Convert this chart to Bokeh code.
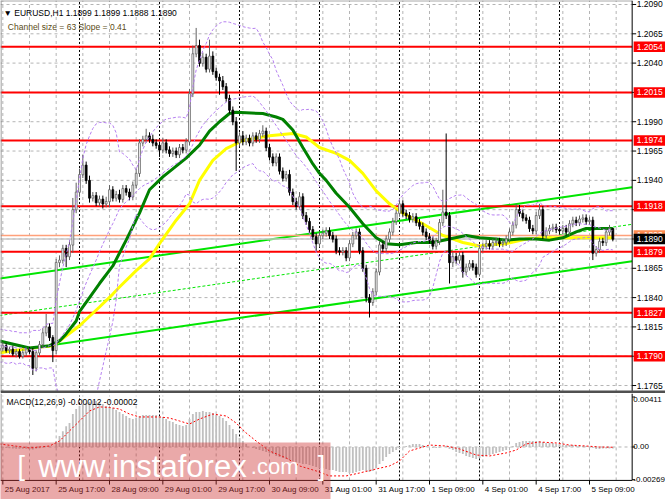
import numpy as np
from bokeh.plotting import figure
from bokeh.layouts import column
from bokeh.models import Range1d
from bokeh.core.properties import value
from bokeh.embed import file_html
from bokeh.resources import INLINE

# ---------------- data (EURUSD H1, 25 Aug 2017 00:00 .. 5 Sep 2017 16:00) ----------------
closes = [
    1.1797, 1.1799, 1.1795, 1.1796, 1.1792, 1.1794, 1.1790, 1.1793, 1.1796, 1.1794,
    1.1780, 1.1793, 1.1800, 1.1810, 1.1815, 1.1806, 1.1795, 1.1870, 1.1872, 1.1882,
    1.1875, 1.1885, 1.1915, 1.1930, 1.1945, 1.1953, 1.1940, 1.1925, 1.1927, 1.1921,
    1.1924, 1.1920, 1.1922, 1.1932, 1.1925, 1.1928, 1.1924, 1.1933, 1.1930, 1.1926,
    1.1936, 1.1946, 1.1972, 1.1975, 1.1978, 1.1975, 1.1972, 1.1970, 1.1966, 1.1972,
    1.1966, 1.1963, 1.1965, 1.1962, 1.1968, 1.1966, 1.1973, 1.2014, 1.2048, 1.2055,
    1.2040, 1.2045, 1.2035, 1.2046, 1.2033, 1.2028, 1.2025, 1.2020, 1.2010, 1.2000,
    1.1990, 1.1972, 1.1978, 1.1973, 1.1976, 1.1972, 1.1978, 1.1975, 1.1980, 1.1982,
    1.1968, 1.1960, 1.1955, 1.1960, 1.1948, 1.1942, 1.1945, 1.1930, 1.1922, 1.1918,
    1.1926, 1.1910, 1.1905, 1.1898, 1.1892, 1.1886, 1.1893, 1.1895, 1.1897, 1.1893,
    1.1890, 1.1880, 1.1879, 1.1880, 1.1874, 1.1886, 1.1893, 1.1896, 1.1880, 1.1865,
    1.1840, 1.1836, 1.1845, 1.1862, 1.1885, 1.1882, 1.1890, 1.1896, 1.1905, 1.1912,
    1.1920, 1.1912, 1.1910, 1.1907, 1.1909, 1.1904, 1.1901, 1.1896, 1.1892, 1.1889,
    1.1884, 1.1888, 1.1904, 1.1913, 1.1910, 1.1870, 1.1875, 1.1872, 1.1876, 1.1862,
    1.1866, 1.1869, 1.1866, 1.1860, 1.1882, 1.1884, 1.1886, 1.1884, 1.1887, 1.1888,
    1.1886, 1.1887, 1.1890, 1.1896, 1.1902, 1.1915, 1.1912, 1.1908, 1.1906, 1.1899,
    1.1897, 1.1910, 1.1915, 1.1893, 1.1897, 1.1899, 1.1900, 1.1898, 1.1897, 1.1899,
    1.1896, 1.1903, 1.1906, 1.1904, 1.1907, 1.1908, 1.1905, 1.1906, 1.1878, 1.1881,
    1.1888, 1.1887, 1.1896, 1.1899, 1.1890,
]
first_open = 1.1795
# wick lengths above / below the body, in pips
up_wick = [
    2, 3, 2, 2, 3, 2, 2, 3, 2, 2,   3, 2, 3, 4, 11, 3, 2, 3, 4, 3,
    3, 4, 10, 8, 5, 9, 3, 4, 3, 3,  3, 3, 4, 4, 3, 3, 4, 3, 3, 3,
    3, 4, 3, 3, 6, 3, 4, 3, 3, 4,   3, 3, 3, 3, 3, 3, 3, 4, 7, 15,
    5, 4, 3, 14, 4, 3, 3, 4, 3, 3,  3, 4, 3, 4, 3, 3, 3, 3, 3, 5,
    3, 3, 3, 3, 3, 3, 3, 4, 3, 3,   4, 3, 3, 3, 3, 3, 3, 3, 3, 3,
    3, 3, 3, 3, 3, 3, 3, 3, 3, 3,   3, 3, 3, 3, 3, 3, 3, 3, 3, 3,
    5, 3, 3, 3, 3, 3, 3, 3, 3, 3,   3, 3, 3, 19, 67, 3, 4, 3, 3, 3,
    3, 3, 3, 3, 3, 3, 3, 3, 3, 3,   3, 3, 3, 3, 3, 5, 4, 3, 3, 3,
    3, 3, 5, 3, 3, 3, 3, 3, 3, 3,   3, 3, 3, 3, 3, 3, 3, 3, 3, 3,
    3, 3, 3, 3, 0,
]
dn_wick = [
    2, 3, 2, 3, 2, 3, 2, 2, 3, 2,   6, 3, 3, 3, 3, 3, 10, 3, 4, 3,
    9, 3, 7, 3, 4, 3, 3, 4, 3, 3,   3, 4, 3, 5, 3, 3, 3, 3, 3, 3,
    3, 3, 3, 3, 3, 3, 3, 3, 6, 3,   3, 3, 3, 3, 3, 3, 3, 3, 3, 3,
    3, 3, 3, 3, 3, 3, 12, 3, 3, 3,  3, 24, 3, 3, 3, 3, 3, 3, 3, 3,
    3, 3, 3, 3, 3, 3, 3, 3, 3, 3,   3, 3, 3, 3, 3, 6, 3, 3, 3, 3,
    3, 3, 3, 3, 3, 3, 3, 3, 3, 3,   4, 13, 3, 3, 3, 3, 3, 3, 3, 3,
    3, 3, 3, 3, 3, 3, 3, 3, 3, 3,   3, 3, 3, 3, 3, 18, 4, 3, 3, 5,
    3, 3, 3, 3, 2, 3, 3, 3, 3, 3,   3, 3, 3, 3, 3, 3, 3, 3, 3, 3,
    3, 3, 3, 3, 3, 3, 3, 3, 3, 3,   3, 3, 3, 3, 3, 3, 3, 3, 6, 3,
    3, 3, 3, 3, 2,
]

green_ma_bar = [0, 9, 15, 18, 20, 23, 24, 27, 30, 34, 38, 42, 45, 49, 56, 60, 63, 66, 69, 71,
                79, 83, 85, 88, 91, 94, 96, 98, 101, 105, 109, 113, 116, 120, 125, 130, 135,
                140, 144, 149, 152, 156, 161, 165, 169, 173, 176, 180, 184]
green_ma = [1.1803, 1.1797, 1.1799, 1.1803, 1.1809, 1.1820, 1.1828, 1.1840, 1.1852, 1.1867,
            1.1889, 1.1912, 1.1932, 1.1943, 1.1959, 1.1970, 1.1982, 1.1990, 1.1997, 1.1998,
            1.1997, 1.1994, 1.1992, 1.1983, 1.1968, 1.1954, 1.1946, 1.1940, 1.1929, 1.1917,
            1.1903, 1.1891, 1.1886, 1.1885, 1.1887, 1.1887, 1.1890, 1.1893, 1.1891, 1.1890,
            1.1889, 1.1890, 1.1890, 1.1889, 1.1891, 1.1896, 1.1899, 1.1899, 1.1899]

yellow_ma_bar = [0, 10, 16, 18, 24, 30, 34, 36, 41, 45, 48, 53, 57, 60, 64, 68, 73, 81, 88, 92,
                 96, 101, 105, 109, 113, 117, 121, 127, 133, 139, 144, 147, 152, 158, 163, 171,
                 178, 184]
yellow_ma = [1.1793, 1.1797, 1.1799, 1.1803, 1.1816, 1.1832, 1.1843, 1.1849, 1.1863, 1.1873,
             1.1886, 1.1906, 1.1920, 1.1940, 1.1957, 1.1967, 1.1974, 1.1978, 1.1980, 1.1977,
             1.1968, 1.1963, 1.1957, 1.1946, 1.1931, 1.1920, 1.1912, 1.1903, 1.1893, 1.1887,
             1.1884, 1.1885, 1.1886, 1.1890, 1.1891, 1.1891, 1.1891, 1.1891]

# Bollinger Bands(20, 2): bands for the first bars (window reaches
# back before the visible data); later bars come from the closes above
bb_period = 20
bb_dev = 2.0
bb_early_upper = [1.1813, 1.1813, 1.1812, 1.1812, 1.1811, 1.1811, 1.1810, 1.1810, 1.1810,
                  1.1810, 1.1812, 1.1812, 1.1812, 1.1814, 1.1817, 1.1818, 1.1818]
bb_early_mid = [1.1799, 1.1799, 1.1798, 1.1798, 1.1798, 1.1797, 1.1797, 1.1797, 1.1796,
                1.1796, 1.1795, 1.1795, 1.1796, 1.1797, 1.1798, 1.1799, 1.1799]
bb_early_lower = [1.1785, 1.1785, 1.1784, 1.1784, 1.1785, 1.1783, 1.1784, 1.1784, 1.1782,
                  1.1782, 1.1778, 1.1778, 1.1780, 1.1780, 1.1779, 1.1780, 1.1780]

levels = [1.2054, 1.2015, 1.1974, 1.1918, 1.1879, 1.1827, 1.1790]
price_ticks = [1.2090, 1.2065, 1.2040, 1.2015, 1.1990, 1.1965, 1.1940, 1.1915,
               1.1890, 1.1865, 1.1840, 1.1815, 1.1790, 1.1765]
hidden_price_ticks = [1.2015, 1.1915, 1.1890, 1.1790]
bid_price = 1.1890
ask_price = 1.1893

# linear regression channel: upper / middle line at bar 0, half width, slope per bar
chan_upper_start = 1.18563
chan_mid_start = 1.18247
chan_half_width = 0.00316
chan_slope = 0.000041
chan_lower_first_bar = 17

# MACD(12,26,9), in units of 1e-5
macd_hist = [
    -4, -6, -8, -10, -12, -14, -14, -15, -15, -18,   -20, -15, -10, -4, 5, 6, 2, 49, 90, 130,
    170, 197, 271, 312, 337, 353, 362, 370, 378, 378,  370, 353, 337, 329, 320, 304, 288, 271, 255, 238,
    230, 238, 255, 263, 263, 263, 263, 263, 255, 247,  230, 214, 206, 189, 181, 173, 181, 230, 271, 288,
    288, 296, 288, 288, 279, 263, 255, 238, 214, 181,  148, 107, 74, 49, 25, 0, -8, -16, -25, -33,
    -41, -49, -58, -74, -82, -90, -99, -107, -115, -123,  -132, -140, -140, -148, -156, -164, -173, -173, -181, -189,
    -189, -197, -206, -206, -206, -214, -214, -206, -197, -189,  -197, -206, -197, -173, -140, -115, -82, -58, -41, -25,
    -8, 0, 8, 16, 25, 25, 25, 16, 8, 0,  -8, -8, -8, 0, 8, -16, -25, -41, -49, -58,
    -74, -82, -90, -99, -90, -82, -74, -66, -58, -49,  -41, -33, -25, -8, 8, 33, 41, 49, 49, 49,
    49, 49, 49, 41, 33, 33, 33, 25, 25, 16,  16, 16, 16, 8, 8, 8, 8, 0, -8, -16,
    -16, -12, -12, -12, -12,
]
signal_bar = [0, 9, 15, 18, 21, 24, 27, 30, 33, 36, 39, 42, 48, 51, 54, 57, 60, 64, 68, 71,
              74, 77, 81, 86, 90, 95, 99, 104, 108, 113, 117, 120, 123, 126, 129, 134, 138,
              143, 147, 152, 155, 158, 162, 167, 171, 176, 180, 184]
signal = [25, -8, 8, 49, 132, 214, 296, 330, 325, 312, 271, 247, 247, 238, 214, 189, 230, 271,
          255, 197, 115, 49, -33, -90, -156, -197, -238, -238, -214, -181, -156, -115, -33, -8,
          16, 8, -16, -66, -74, -49, -25, 25, 41, 33, 16, 8, 0, -2]
macd_ticks = [0.00411, 0.0, -0.00269]
macd_tick_labels = ["0.00411", "0.00", "-0.00269"]
macd_label = "MACD(12,26,9) -0.00012 -0.00002"

time_tick_bars = [1, 17, 33, 49, 65, 81, 97, 113, 129, 145, 161, 177]
time_tick_labels = ["25 Aug 2017", "25 Aug 17:00", "28 Aug 09:00", "29 Aug 01:00",
                    "29 Aug 17:00", "30 Aug 09:00", "31 Aug 01:00", "31 Aug 17:00",
                    "1 Sep 09:00", "4 Sep 01:00", "4 Sep 17:00", "5 Sep 09:00"]
day_separator_bars = [24, 48, 72, 96, 120, 144, 168]
grid_bars = [1, 9, 17, 25, 33, 41, 49, 57, 65, 73, 81, 89, 97, 105, 113, 121, 129, 137,
             145, 153, 161, 169, 177, 185]

title_text = "\u25bc EURUSD,H1  1.1899 1.1899 1.1888 1.1890"
channel_text = "Channel size = 63 Slope = 0.41"

# ---------------- derived series ----------------
n = len(closes)
bars = np.arange(n)
cl = np.array(closes)
op = np.array([first_open] + closes[:-1])
hi = np.maximum(op, cl) + np.array(up_wick) * 0.0001
lo = np.minimum(op, cl) - np.array(dn_wick) * 0.0001
bull = cl >= op

bb_up, bb_mid, bb_lo = [], [], []
for i in range(n):
    if i < len(bb_early_mid):
        bb_up.append(bb_early_upper[i]); bb_mid.append(bb_early_mid[i]); bb_lo.append(bb_early_lower[i])
    else:
        w = cl[max(0, i - bb_period + 1): i + 1]
        m, s = w.mean(), w.std()
        bb_up.append(m + bb_dev * s); bb_mid.append(m); bb_lo.append(m - bb_dev * s)

FONT = value("Liberation Sans")
FS = value("8.5px")
W = 665
X0, X1 = 0.3, 199.8      # whole canvas width (chart + price scale)
AX = 189.8               # position of the price scale line
P_TOP, P_BOT = 1.20934, 1.17582
P_DIV = 1.17595          # panel divider
M_TOP, M_BOT = 0.00440, -0.00432
M_FTOP, M_FBOT = 0.00423, -0.00275   # MACD sub-window edges
BOX_H = 0.00090

def base_fig(h, yr):
    f = figure(width=W, height=h, x_range=Range1d(X0, X1), y_range=Range1d(*yr),
               output_backend="svg", toolbar_location=None,
               x_axis_location=None, y_axis_location=None,
               min_border_left=0, min_border_right=0, min_border_top=0, min_border_bottom=0)
    f.outline_line_color = None
    f.xgrid.visible = False
    f.ygrid.visible = False
    f.background_fill_color = "white"
    f.border_fill_color = "white"
    return f

# ---------------- main price window ----------------
p1 = base_fig(393, (P_BOT, P_TOP))

# grid
p1.segment(x0=grid_bars, y0=P_DIV, x1=grid_bars, y1=P_TOP, line_color="#b4b4b4",
           line_dash="3 3", line_width=1)
p1.segment(x0=X0, y0=price_ticks, x1=AX, y1=price_ticks, line_color="#b4b4b4",
           line_dash="3 3", line_width=1)
# day separators
p1.segment(x0=day_separator_bars, y0=P_DIV, x1=day_separator_bars, y1=P_TOP,
           line_color="black", line_dash="2 2", line_width=1)

# regression channel
p1.segment(x0=[0, chan_lower_first_bar],
           y0=[chan_upper_start, chan_mid_start - chan_half_width + chan_slope * chan_lower_first_bar],
           x1=[AX, AX],
           y1=[chan_upper_start + chan_slope * AX, chan_mid_start - chan_half_width + chan_slope * AX],
           line_color="#00e600", line_width=2)
p1.segment(x0=[0], y0=[chan_mid_start], x1=[AX], y1=[chan_mid_start + chan_slope * AX],
           line_color="#00e600", line_width=1, line_dash="3 2")

# support / resistance levels and current prices
p1.segment(x0=X0, y0=levels, x1=AX, y1=levels, line_color="#ff0000", line_width=2)
p1.segment(x0=[X0], y0=[ask_price], x1=[AX], y1=[ask_price], line_color="#ffa07a", line_width=1.5)
p1.segment(x0=[X0], y0=[bid_price], x1=[AX], y1=[bid_price], line_color="#c8c8c8", line_width=1.5)

# moving averages
p1.line(yellow_ma_bar, yellow_ma, line_color="#ffff00", line_width=3)
p1.line(green_ma_bar, green_ma, line_color="#008000", line_width=3)

# candles
wick_col = np.where(bull, "#606060", "black")
p1.segment(x0=bars, y0=hi, x1=bars, y1=lo, line_color=wick_col, line_width=1)
p1.vbar(x=bars, width=0.55, top=np.maximum(op, cl), bottom=np.minimum(op, cl) - 0.00002,
        fill_color=np.where(bull, "white", "black"), line_color=wick_col, line_width=0.8)

# Bollinger bands
for band in (bb_up, bb_mid, bb_lo):
    p1.line(bars, band, line_color="#b57ff0", line_width=1, line_dash="3 2")

# frame + price scale
p1.segment(x0=[X0 + 0.15, X0, AX], y0=[P_DIV, P_TOP - 0.00003, P_DIV],
           x1=[X0 + 0.15, AX, AX], y1=[P_TOP, P_TOP - 0.00003, P_TOP],
           line_color=["#808080", "#808080", "black"], line_width=1)
p1.segment(x0=[X0], y0=[P_DIV], x1=[X1], y1=[P_DIV], line_color="#505050", line_width=3)
vis_ticks = [t for t in price_ticks if t not in hidden_price_ticks]
p1.segment(x0=AX, y0=price_ticks, x1=AX + 1.2, y1=price_ticks, line_color="black", line_width=1)
p1.text(x=AX + 1.35, y=vis_ticks, text=[f"{t:.4f}" for t in vis_ticks], text_font=FONT,
        text_font_size=FS, text_color="black", text_align="left", text_baseline="middle")

# level labels on the price scale (ask first, the bid label covers most of it)
for prices, col in ((levels, "#ff0000"), ([ask_price], "#ff8c50"), ([bid_price], "black")):
    p1.quad(left=AX + 0.45, right=X1 + 1, top=[b + BOX_H / 2 for b in prices],
            bottom=[b - BOX_H / 2 for b in prices], fill_color=col, line_color=None)
    p1.text(x=AX + 1.35, y=prices, text=[f"{b:.4f}" for b in prices], text_font=FONT,
            text_font_size=FS, text_color="white", text_align="left", text_baseline="middle")

# header texts
p1.text(x=[1.2, 2.5], y=[1.2083, 1.2071], text=[title_text, channel_text], text_font=FONT,
        text_font_size=FS, text_color=["black", "#5a4b16"], text_align="left",
        text_baseline="middle")

# ---------------- MACD window ----------------
p2 = base_fig(106, (M_BOT, M_TOP))

p2.segment(x0=grid_bars, y0=M_FBOT, x1=grid_bars, y1=M_FTOP, line_color="#b4b4b4",
           line_dash="3 3", line_width=1)
p2.segment(x0=[X0], y0=[0.0], x1=[AX], y1=[0.0], line_color="#b4b4b4", line_dash="3 3",
           line_width=1)
p2.segment(x0=day_separator_bars, y0=M_FBOT, x1=day_separator_bars, y1=M_FTOP,
           line_color="black", line_dash="2 2", line_width=1)

p2.vbar(x=bars, width=0.55, top=np.array(macd_hist) * 1e-5, bottom=0, fill_color="#c0c0c0",
        line_color=None)
p2.line(signal_bar, np.array(signal) * 1e-5, line_color="#ff0000", line_width=1, line_dash="2 2")

# frame, scales
p2.segment(x0=[X0 + 0.15, X0, AX], y0=[M_FBOT, M_FBOT, M_FBOT],
           x1=[X0 + 0.15, AX, AX], y1=[M_TOP, M_FBOT, M_TOP],
           line_color=["#808080", "black", "black"], line_width=1)
p2.segment(x0=AX, y0=macd_ticks, x1=AX + 0.9, y1=macd_ticks, line_color="black")
p2.text(x=AX + 0.35, y=macd_ticks, text=macd_tick_labels, text_font=FONT,
        text_font_size=value("8px"), text_color="black", text_align="left",
        text_baseline=["top", "middle", "middle"])
p2.segment(x0=time_tick_bars, y0=M_FBOT, x1=time_tick_bars, y1=M_FBOT - 0.00034,
           line_color="black")
p2.text(x=[b + 0.6 for b in time_tick_bars], y=-0.00352, text=time_tick_labels, text_font=FONT,
        text_font_size=value("8px"), text_color="black", text_align="left",
        text_baseline="middle")
p2.text(x=[2.1], y=[0.00374], text=[macd_label], text_font=FONT, text_font_size=FS,
        text_color="black", text_align="left", text_baseline="middle")

# watermark
p2.quad(left=[X0 - 1], right=[99.3], top=[0.00037], bottom=[M_BOT - 0.001],
        fill_color="#cc3333", fill_alpha=0.42, line_color=None)
for tx, tt, ts in [(5.4, "[", "27px"), (11.6, "www.instaforex", "31px"),
                   (75.4, ".com", "22px"), (95.5, "]", "27px")]:
    p2.text(x=[tx], y=[-0.0016], text=[tt], text_font=FONT, text_font_size=value(ts),
            text_color="white", text_align="left", text_baseline="middle")

layout = column(p1, p2, spacing=0)
open("out.html", "w").write(file_html(layout, INLINE))
